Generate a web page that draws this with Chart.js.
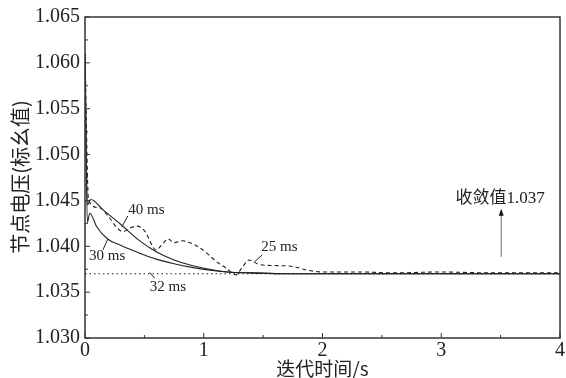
<!DOCTYPE html>
<html>
<head>
<meta charset="utf-8">
<script src="https://cdn.jsdelivr.net/npm/chart.js@4"></script>
<style>
  html, body { margin: 0; padding: 0; background: #fff; }
  canvas { display: block; }
</style>
</head>
<body>
<canvas id="voltChart" width="566" height="378"></canvas>
<script>
// ===== data =====
const xTicks = [0, 1, 2, 3, 4];
const yTicks = [1.030, 1.035, 1.040, 1.045, 1.050, 1.055, 1.060, 1.065];

// 40 ms (upper solid)
const t40 = [0, 0.02, 0.05, 0.15, 0.3, 0.45, 0.6, 0.75, 0.9, 1.05, 1.2, 1.4, 1.7, 2.5, 4];
const v40 = [1.061, 1.0445, 1.0451, 1.0440, 1.0424, 1.0407, 1.0394, 1.0385, 1.0379, 1.0375, 1.0372, 1.0371, 1.0370, 1.0370, 1.0370];

// 30 ms (lower solid)
const t30 = [0, 0.02, 0.04, 0.1, 0.19, 0.3, 0.45, 0.6, 0.75, 0.9, 1.05, 1.2, 1.4, 1.7, 2.5, 4];
const v30 = [1.061, 1.0426, 1.0436, 1.0421, 1.0408, 1.0401, 1.0393, 1.0386, 1.0381, 1.0377, 1.0374, 1.0372, 1.0371, 1.0370, 1.0370, 1.0370];

// 25 ms (dashed)
const t25 = [0, 0.03, 0.12, 0.2, 0.27, 0.32, 0.38, 0.44, 0.5, 0.6, 0.65, 0.7, 0.75, 0.82, 0.9, 0.96, 1.03, 1.1, 1.19, 1.27, 1.33, 1.38, 1.47, 1.6, 1.75, 1.87, 2.0, 2.3, 2.6, 3.0, 3.4, 4];
const v25 = [1.061, 1.0450, 1.0442, 1.0432, 1.0420, 1.0416, 1.0420, 1.0422, 1.0417, 1.0396, 1.0402, 1.0408, 1.0404, 1.0406, 1.0403, 1.0399, 1.0392, 1.0384, 1.0376, 1.0369, 1.0378, 1.0385, 1.0380, 1.0379, 1.0378, 1.0374, 1.0372, 1.0372, 1.0371, 1.0372, 1.0371, 1.0371];

// 32 ms (dotted)
const t32 = [0, 4];
const v32 = [1.037, 1.037];

const convergedValue = 1.037;

function pts(ts, vs) {
  return ts.map((t, i) => ({ x: t, y: vs[i] }));
}

const INK = '#222';
const serif = '"Liberation Serif", "DejaVu Serif", serif';
const cjk = '"Noto Sans CJK SC", sans-serif';

function lineSet(label, data, dash) {
  return {
    label, data,
    borderColor: INK,
    borderWidth: 1.1,
    borderDash: dash,
    pointRadius: 0,
    fill: false,
    cubicInterpolationMode: 'monotone'
  };
}

// labels with little pointer strokes, in data units
const callouts = [
  { text: '40 ms', tx: 0.365, ty: 1.0440, p: [0.31, 1.0421, 0.36, 1.0433] },
  { text: '30 ms', tx: 0.034, ty: 1.03895, p: [0.193, 1.04081, 0.151, 1.03961] },
  { text: '32 ms', tx: 0.545, ty: 1.03557, p: [0.545, 1.03715, 0.587, 1.0365] },
  { text: '25 ms', tx: 1.484, ty: 1.03988, p: [1.426, 1.0383, 1.493, 1.03906] }
];

const decor = {
  id: 'decor',
  afterDraw(chart) {
    const { ctx, chartArea: a, scales: { x, y } } = chart;
    ctx.save();

    // frame
    ctx.strokeStyle = '#333';
    ctx.lineWidth = 1.5;
    ctx.strokeRect(a.left, a.top, a.right - a.left, a.bottom - a.top);

    // inward ticks, major and minor
    ctx.lineWidth = 1;
    ctx.beginPath();
    yTicks.forEach((v, i) => {
      const py = y.getPixelForValue(v);
      ctx.moveTo(a.left, py); ctx.lineTo(a.left + 5, py);
      if (i < yTicks.length - 1) {
        const pm = y.getPixelForValue(v + 0.0025);
        ctx.moveTo(a.left, pm); ctx.lineTo(a.left + 3, pm);
      }
    });
    xTicks.forEach((t, i) => {
      const px = x.getPixelForValue(t);
      ctx.moveTo(px, a.bottom); ctx.lineTo(px, a.bottom - 5);
      if (i < xTicks.length - 1) {
        const pm = x.getPixelForValue(t + 0.5);
        ctx.moveTo(pm, a.bottom); ctx.lineTo(pm, a.bottom - 3);
      }
    });
    ctx.stroke();

    // callouts
    ctx.fillStyle = INK;
    ctx.strokeStyle = INK;
    ctx.font = '15px ' + serif;
    ctx.textAlign = 'left';
    ctx.textBaseline = 'middle';
    callouts.forEach(c => {
      ctx.fillText(c.text, x.getPixelForValue(c.tx), y.getPixelForValue(c.ty));
      ctx.beginPath();
      ctx.moveTo(x.getPixelForValue(c.p[0]), y.getPixelForValue(c.p[1]));
      ctx.lineTo(x.getPixelForValue(c.p[2]), y.getPixelForValue(c.p[3]));
      ctx.stroke();
    });

    // converged value arrow + text
    const ax = x.getPixelForValue(3.505);
    const ay0 = y.getPixelForValue(1.03885);
    const ay1 = y.getPixelForValue(1.0441);
    ctx.strokeStyle = '#999';
    ctx.lineWidth = 1.5;
    ctx.beginPath();
    ctx.moveTo(ax, ay0); ctx.lineTo(ax, ay1 + 6);
    ctx.stroke();
    ctx.fillStyle = '#111';
    ctx.beginPath();
    ctx.moveTo(ax, ay1); ctx.lineTo(ax - 2.5, ay1 + 7); ctx.lineTo(ax + 2.5, ay1 + 7);
    ctx.closePath();
    ctx.fill();

    ctx.fillStyle = INK;
    ctx.font = '17px ' + serif + ', ' + cjk;
    ctx.fillText('收敛值' + convergedValue.toFixed(3), x.getPixelForValue(3.12), y.getPixelForValue(1.04523));

    // axis titles
    ctx.font = '19px ' + cjk;
    ctx.textAlign = 'center';
    ctx.fillText('迭代时间/s', (a.left + a.right) / 2, 369);
    ctx.save();
    ctx.translate(20, 177);
    ctx.rotate(-Math.PI / 2);
    ctx.font = '20px ' + cjk;
    ctx.fillText('节点电压(标幺值)', 0, 0);
    ctx.restore();

    ctx.restore();
  }
};

new Chart(document.getElementById('voltChart'), {
  type: 'line',
  data: {
    datasets: [
      lineSet('40 ms', pts(t40, v40), []),
      lineSet('30 ms', pts(t30, v30), []),
      lineSet('25 ms', pts(t25, v25), [4, 3]),
      lineSet('32 ms', pts(t32, v32), [1.5, 3])
    ]
  },
  options: {
    responsive: false,
    animation: false,
    devicePixelRatio: 1,
    layout: { padding: { top: 17, right: 4, left: 0, bottom: 0 } },
    plugins: { legend: { display: false }, tooltip: { enabled: false } },
    scales: {
      x: {
        type: 'linear',
        min: 0, max: 4,
        afterFit: s => { s.height = 40; },
        afterBuildTicks: s => { s.ticks = xTicks.map(v => ({ value: v })); },
        grid: { display: false, drawTicks: false },
        border: { display: false },
        ticks: {
          color: INK, padding: 1,
          font: { family: serif, size: 20 },
          callback: v => String(v)
        }
      },
      y: {
        type: 'linear',
        min: 1.030, max: 1.065,
        afterFit: s => { s.width = 85; },
        afterBuildTicks: s => { s.ticks = yTicks.map(v => ({ value: v })); },
        grid: { display: false, drawTicks: false },
        border: { display: false },
        ticks: {
          color: INK, padding: 5,
          font: { family: serif, size: 20 },
          callback: v => v.toFixed(3)
        }
      }
    }
  },
  plugins: [decor]
});
</script>
</body>
</html>
